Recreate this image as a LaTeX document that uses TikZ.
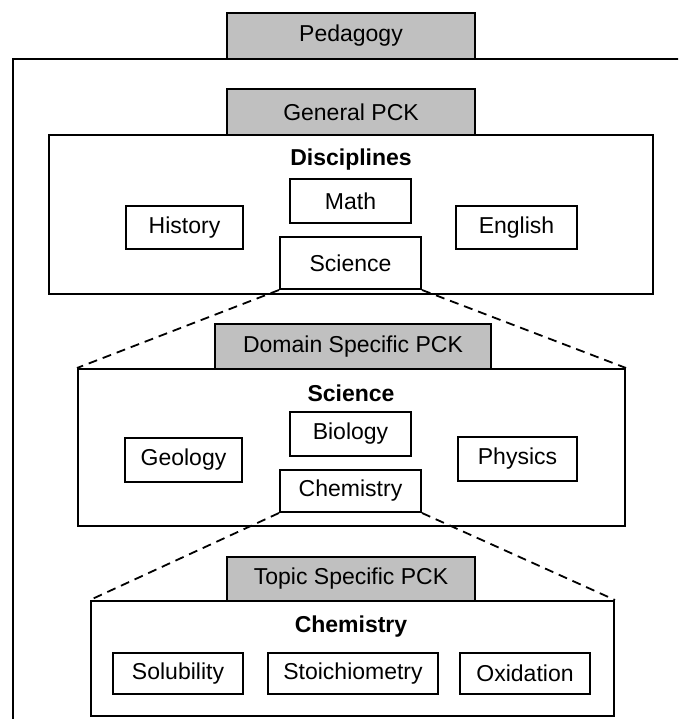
\documentclass[tikz,border=0pt]{standalone}
\usepackage{fontspec}
\setmainfont{Liberation Sans}
\definecolor{tabgrey}{RGB}{192,192,192}
\begin{document}
\begin{tikzpicture}[x=1pt,y=-1pt,
  txt/.style={font=\fontsize{23}{27}\selectfont},
  box/.style={txt, draw=black, line width=2pt, fill=white, inner sep=0pt},
  tab/.style={box, fill=tabgrey},
  panel/.style={draw=black, line width=2pt, fill=white, inner sep=0pt},
  heading/.style={txt, font=\fontsize{23}{27}\selectfont\bfseries, inner sep=0pt},
  frameline/.style={draw=black, line width=2pt},
  zoomline/.style={draw=black, line width=1.8pt, dash pattern=on 9pt off 6pt}
]
\useasboundingbox (0,0) rectangle (678,719);
\clip (0,0) rectangle (678,719);

% outer frame, running past the page edges
\draw[frameline] (700,59) -| (13,740);

% top label
\node[tab, minimum width=248, minimum height=46] (pedagogy) at (351,36) {Pedagogy};

% level 1: general PCK
\node[tab, minimum width=248, minimum height=46] (general) at (351,112.5) {General PCK};
\node[panel, minimum width=604, minimum height=158] (discpanel) at (351,214.5) {};
\node[heading] (disc) at (351,160) {Disciplines};
\node[box, minimum width=121, minimum height=44] (math) at (350.5,201) {Math};
\node[box, minimum width=117, minimum height=43] (history) at (184.5,227.5) {History};
\node[box, minimum width=121, minimum height=43] (english) at (516.5,227.5) {English};
\node[box, minimum width=141, minimum height=52] (science) at (350.5,263) {Science};

% level 2: domain specific PCK
\node[tab, minimum width=276, minimum height=45] (domain) at (353,346.5) {Domain Specific PCK};
\node[panel, minimum width=547, minimum height=157] (scipanel) at (351.5,447.5) {};
\node[heading] (sci) at (351,393) {Science};
\node[box, minimum width=121, minimum height=44] (biology) at (350.5,434) {Biology};
\node[box, minimum width=117, minimum height=44] (geology) at (183.5,460) {Geology};
\node[box, minimum width=119, minimum height=44] (physics) at (517.5,459) {Physics};
\node[box, minimum width=141, minimum height=42] (chemistry) at (350.5,491) {Chemistry};

% level 3: topic specific PCK
\node[tab, minimum width=248, minimum height=44] (topic) at (351,579) {Topic Specific PCK};
\node[panel, minimum width=523, minimum height=115] (chempanel) at (352.5,658.5) {};
\node[heading] (chem) at (351,627) {Chemistry};
\node[box, minimum width=130, minimum height=41] (solubility) at (178,673.5) {Solubility};
\node[box, minimum width=170, minimum height=41] (stoich) at (353,673.5) {Stoichiometry};
\node[box, minimum width=130, minimum height=41] (oxidation) at (525,673.5) {Oxidation};

% zoom-in connectors
\draw[zoomline] (science.south west) -- (scipanel.north west);
\draw[zoomline] (science.south east) -- (scipanel.north east);
\draw[zoomline] (chemistry.south west) -- (chempanel.north west);
\draw[zoomline] (chemistry.south east) -- (chempanel.north east);
\end{tikzpicture}
\end{document}
